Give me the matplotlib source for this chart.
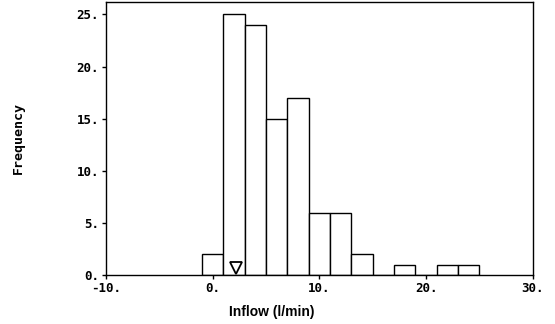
import numpy as np
from matplotlib import pyplot as plt

# histogram bins (l/min), width 2, centred on even values
bin_centers = [0, 2, 4, 6, 8, 10, 12, 14, 16, 18, 20, 22, 24]
counts = [2, 25, 24, 15, 17, 6, 6, 2, 0, 1, 0, 1, 1]
bin_width = 2
median_inflow = 2.2

x_ticks = [-10, 0, 10, 20, 30]
x_tick_labels = ['-10.', '0.', '10.', '20.', '30.']
y_ticks = [0, 5, 10, 15, 20, 25]
y_tick_labels = ['0.', '5.', '10.', '15.', '20.', '25.']

fig = plt.figure(figsize=(5.55, 3.24), dpi=100)
ax = fig.add_axes([0.191, 0.151, 0.769, 0.843])

ax.bar(bin_centers, counts, width=bin_width, color='white',
       edgecolor='black', linewidth=1.0)
ax.plot([median_inflow], [0.65], marker='v', markersize=8,
        markerfacecolor='white', markeredgecolor='black', markeredgewidth=1.3)

ax.set_xlim(-10, 30)
ax.set_ylim(0, 26.2)

mono = {'family': 'DejaVu Sans Mono', 'weight': 'bold', 'size': 9}
ax.set_xticks(x_ticks)
ax.set_xticklabels(x_tick_labels, fontdict=mono)
ax.set_yticks(y_ticks)
ax.set_yticklabels(y_tick_labels, fontdict=mono)
ax.tick_params(direction='out', length=3, width=1, pad=2)

for s in ax.spines.values():
    s.set_linewidth(1.0)

fig.text(0.49, 0.037, 'Inflow (l/min)', ha='center', va='center',
         family='Liberation Sans', weight='bold', fontsize=10)
fig.text(0.033, 0.575, 'Frequency', rotation=90, ha='center', va='center',
         family='DejaVu Sans Mono', weight='bold', fontsize=9.5)

plt.savefig('out.png', dpi=100)
